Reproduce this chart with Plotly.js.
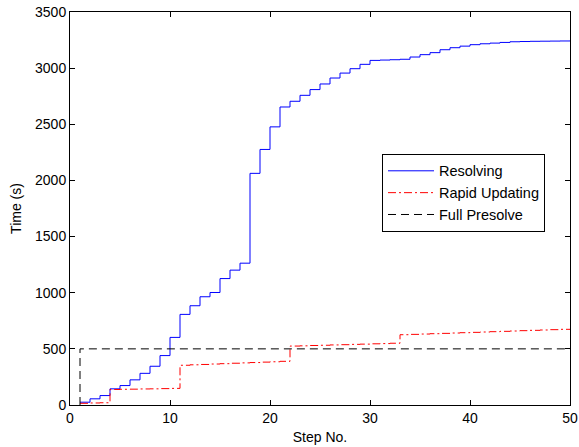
<!DOCTYPE html>
<html>
<head>
<meta charset="utf-8">
<script src="https://cdn.plot.ly/plotly-3.0.1.min.js"></script>
<style>
  html, body { margin: 0; padding: 0; background: #fff; }
  #chart { width: 579px; height: 447px; }
</style>
</head>
<body>
<div id="chart"></div>
<script>
const steps = [1,2,3,4,5,6,7,8,9,10,11,12,13,14,15,16,17,18,19,20,21,22,23,24,25,26,27,28,29,30,31,32,33,34,35,36,37,38,39,40,41,42,43,44,45,46,47,48,49,50];

const resolvingTime = [25,55,84,144,173,224,282,345,440,602,
  807,884,964,1002,1126,1201,1263,2063,2276,2477,
  2654,2705,2758,2809,2859,2912,2956,2995,3034,3069,
  3072,3075,3079,3099,3120,3138,3164,3182,3196,3209,
  3217,3223,3229,3235,3237,3239,3240,3241,3242,3243];

const rapidTime = [15,18,20,138,140,141,143,144,146,148,
  354,358,361,365,368,372,375,378,382,385,
  389,525,527,530,532,535,537,540,542,545,
  547,550,626,629,632,635,638,641,644,647,
  650,653,656,659,662,665,668,671,674,677];

const presolveTime = [500,500,500,500,500,500,500,500,500,500,
  500,500,500,500,500,500,500,500,500,500,
  500,500,500,500,500,500,500,500,500,500,
  500,500,500,500,500,500,500,500,500,500,
  500,500,500,500,500,500,500,500,500,500];

const xTicks = [0,10,20,30,40,50];
const yTicks = [0,500,1000,1500,2000,2500,3000,3500];

const traces = [
  {
    x: steps, y: resolvingTime, name: 'Resolving', type: 'scatter', mode: 'lines',
    line: {shape: 'hv', color: '#0000ff', width: 1}
  },
  {
    x: steps, y: rapidTime, name: 'Rapid Updating', type: 'scatter', mode: 'lines',
    line: {shape: 'hv', color: '#ff0000', width: 1, dash: '8px,3px,2px,3px'}
  },
  {
    x: [steps[0]].concat(steps), y: [0].concat(presolveTime), name: 'Full Presolve', type: 'scatter', mode: 'lines',
    line: {shape: 'linear', color: '#000000', width: 1, dash: '8px,5px'}
  }
];

const tickFont = {family: 'Liberation Sans, Arial, sans-serif', size: 14, color: '#000'};
const legFont = {family: 'Liberation Sans, Arial, sans-serif', size: 14.5, color: '#000'};

const layout = {
  width: 579, height: 447,
  margin: {l: 70, r: 9, t: 12, b: 42},
  paper_bgcolor: '#fff', plot_bgcolor: '#fff',
  font: tickFont,
  showlegend: true,
  legend: {
    x: 0.624, y: 0.639, xanchor: 'left', yanchor: 'top',
    bordercolor: '#000', borderwidth: 1, bgcolor: '#fff',
    font: legFont, itemwidth: 46,
    tracegroupgap: 0
  },
  xaxis: {
    range: [0, 50], tickvals: xTicks, ticktext: xTicks.map(String),
    showline: true, linecolor: '#000', linewidth: 1, mirror: 'ticks',
    ticks: 'inside', ticklen: 5, tickcolor: '#000', showgrid: false, zeroline: false,
    title: {text: 'Step No.', font: tickFont, standoff: 7},
    tickfont: tickFont
  },
  yaxis: {
    range: [0, 3500], tickvals: yTicks, ticktext: yTicks.map(String),
    showline: true, linecolor: '#000', linewidth: 1, mirror: 'ticks',
    ticks: 'inside', ticklen: 5, tickcolor: '#000', showgrid: false, zeroline: false,
    title: {text: 'Time (s)', font: tickFont, standoff: 10},
    tickfont: tickFont
  }
};

Plotly.newPlot('chart', traces, layout, {displayModeBar: false, staticPlot: true});
</script>
</body>
</html>
